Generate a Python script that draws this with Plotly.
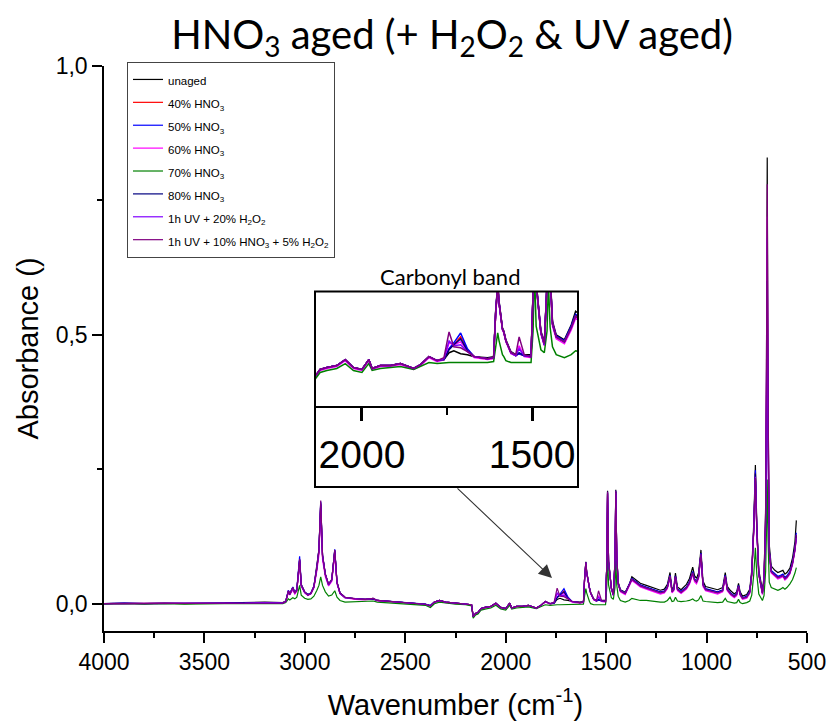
import plotly.graph_objects as go

# ---------------- data ----------------
wavenumber = [
    4000, 3900, 3800, 3700, 3600, 3500, 3400, 3300, 3200, 3110,
    3095, 3082, 3075, 3060, 3050, 3040, 3026, 3018, 3001, 2985,
    2970, 2955, 2940, 2930, 2921, 2912, 2898, 2882, 2866, 2851,
    2840, 2825, 2800, 2750, 2700, 2660, 2640, 2600, 2530, 2450,
    2400, 2375, 2355, 2330, 2300, 2250, 2200, 2170, 2162, 2150,
    2138, 2123, 2103, 2074, 2049, 2025, 2000, 1980, 1970, 1946,
    1916, 1887, 1848, 1828, 1803, 1779, 1759, 1744, 1730, 1710,
    1690, 1670, 1631, 1613, 1607, 1601, 1597, 1587, 1583, 1577,
    1562, 1548, 1538, 1523, 1503, 1497, 1493, 1488, 1474, 1464,
    1456, 1452, 1447, 1440, 1429, 1405, 1385, 1372, 1350, 1330,
    1300, 1260, 1230, 1210, 1195, 1182, 1172, 1163, 1155, 1145,
    1127, 1100, 1085, 1069, 1060, 1050, 1040, 1028, 1018, 1005,
    980, 960, 945, 920, 907, 897, 880, 862, 850, 841,
    833, 821, 800, 785, 775, 765, 757, 750, 740, 730,
    722, 714, 706, 702, 698, 694, 688, 678, 660, 645,
    632, 620, 610, 600, 585, 572, 560, 553,
]

unaged = [
    0.000, 0.001, 0.000, 0.001, 0.000, 0.001, 0.002, 0.003, 0.003, 0.002,
    0.005, 0.024, 0.018, 0.030, 0.020, 0.026, 0.082, 0.035, 0.022, 0.017,
    0.020, 0.032, 0.068, 0.100, 0.188, 0.090, 0.055, 0.036, 0.045, 0.100,
    0.040, 0.020, 0.012, 0.009, 0.008, 0.010, 0.006, 0.005, 0.003, 0.001,
    -0.001, -0.004, 0.003, 0.006, 0.003, 0.001, 0.000, -0.002, -0.024, -0.018,
    -0.016, -0.009, -0.007, -0.005, 0.001, -0.007, -0.009, 0.001, -0.008, -0.005,
    -0.005, -0.003, -0.008, -0.004, 0.004, 0.000, 0.001, 0.008, 0.010, 0.007,
    0.006, 0.004, 0.003, 0.004, 0.050, 0.078, 0.060, 0.033, 0.030, 0.021,
    0.009, 0.006, 0.007, 0.006, 0.006, 0.070, 0.210, 0.080, 0.030, 0.018,
    0.080, 0.212, 0.090, 0.040, 0.026, 0.021, 0.036, 0.050, 0.044, 0.038,
    0.034, 0.029, 0.025, 0.027, 0.036, 0.058, 0.027, 0.031, 0.057, 0.031,
    0.026, 0.036, 0.047, 0.068, 0.052, 0.047, 0.057, 0.100, 0.042, 0.032,
    0.030, 0.028, 0.026, 0.030, 0.058, 0.032, 0.024, 0.018, 0.022, 0.038,
    0.022, 0.014, 0.017, 0.027, 0.062, 0.150, 0.258, 0.150, 0.062, 0.042,
    0.025, 0.050, 0.170, 0.420, 0.830, 0.400, 0.110, 0.070, 0.062, 0.058,
    0.060, 0.062, 0.055, 0.058, 0.066, 0.085, 0.115, 0.155,
]

hno3_40 = [
    0.000, 0.000, 0.001, 0.000, 0.000, 0.001, 0.001, 0.002, 0.002, 0.001,
    0.004, 0.022, 0.017, 0.028, 0.019, 0.025, 0.080, 0.034, 0.021, 0.016,
    0.019, 0.031, 0.066, 0.097, 0.184, 0.088, 0.053, 0.035, 0.044, 0.097,
    0.039, 0.019, 0.011, 0.009, 0.008, 0.009, 0.006, 0.005, 0.003, 0.001,
    -0.001, -0.004, 0.003, 0.006, 0.003, 0.001, 0.000, -0.002, -0.023, -0.018,
    -0.016, -0.009, -0.007, -0.005, 0.001, -0.007, -0.009, 0.001, -0.008, -0.005,
    -0.005, -0.003, -0.008, -0.004, 0.004, 0.000, 0.001, 0.012, 0.016, 0.024,
    0.011, 0.004, 0.002, 0.003, 0.048, 0.076, 0.058, 0.032, 0.029, 0.020,
    0.008, 0.005, 0.007, 0.005, 0.004, 0.068, 0.205, 0.078, 0.028, 0.016,
    0.078, 0.207, 0.087, 0.037, 0.024, 0.019, 0.034, 0.046, 0.040, 0.034,
    0.030, 0.025, 0.021, 0.023, 0.031, 0.052, 0.023, 0.027, 0.051, 0.027,
    0.022, 0.030, 0.040, 0.058, 0.045, 0.041, 0.050, 0.093, 0.036, 0.027,
    0.025, 0.023, 0.021, 0.025, 0.052, 0.027, 0.019, 0.014, 0.018, 0.033,
    0.018, 0.010, 0.013, 0.022, 0.056, 0.140, 0.245, 0.140, 0.056, 0.036,
    0.020, 0.044, 0.150, 0.360, 0.640, 0.340, 0.098, 0.060, 0.053, 0.049,
    0.051, 0.053, 0.047, 0.050, 0.058, 0.076, 0.102, 0.128,
]

hno3_50 = [
    0.000, 0.001, 0.000, 0.000, 0.001, 0.000, 0.001, 0.002, 0.002, 0.001,
    0.005, 0.025, 0.019, 0.031, 0.021, 0.027, 0.088, 0.036, 0.022, 0.017,
    0.020, 0.033, 0.069, 0.101, 0.190, 0.091, 0.055, 0.036, 0.045, 0.101,
    0.040, 0.020, 0.012, 0.009, 0.008, 0.009, 0.006, 0.005, 0.003, 0.001,
    -0.001, -0.003, 0.003, 0.006, 0.003, 0.001, 0.000, -0.002, -0.024, -0.018,
    -0.016, -0.009, -0.007, -0.005, 0.001, -0.007, -0.009, 0.001, -0.008, -0.005,
    -0.005, -0.003, -0.008, -0.004, 0.004, 0.000, 0.001, 0.012, 0.018, 0.028,
    0.012, 0.004, 0.002, 0.003, 0.049, 0.077, 0.059, 0.032, 0.029, 0.020,
    0.008, 0.005, 0.007, 0.005, 0.005, 0.069, 0.208, 0.079, 0.029, 0.017,
    0.079, 0.210, 0.088, 0.038, 0.025, 0.020, 0.035, 0.047, 0.041, 0.035,
    0.031, 0.026, 0.022, 0.024, 0.032, 0.053, 0.024, 0.028, 0.052, 0.028,
    0.023, 0.031, 0.041, 0.060, 0.046, 0.042, 0.051, 0.094, 0.037, 0.028,
    0.026, 0.024, 0.022, 0.026, 0.053, 0.028, 0.020, 0.015, 0.019, 0.034,
    0.019, 0.011, 0.014, 0.023, 0.057, 0.142, 0.248, 0.142, 0.057, 0.037,
    0.021, 0.045, 0.155, 0.380, 0.680, 0.360, 0.100, 0.062, 0.055, 0.051,
    0.053, 0.055, 0.049, 0.052, 0.060, 0.078, 0.105, 0.132,
]

hno3_60 = [
    0.000, 0.000, 0.000, 0.001, 0.000, 0.000, 0.001, 0.002, 0.002, 0.001,
    0.004, 0.021, 0.016, 0.026, 0.018, 0.023, 0.075, 0.032, 0.020, 0.015,
    0.018, 0.029, 0.062, 0.090, 0.172, 0.082, 0.050, 0.033, 0.041, 0.091,
    0.037, 0.018, 0.011, 0.008, 0.007, 0.009, 0.005, 0.004, 0.002, 0.000,
    -0.002, -0.005, 0.002, 0.005, 0.002, 0.000, -0.001, -0.003, -0.025, -0.019,
    -0.017, -0.010, -0.008, -0.006, 0.000, -0.008, -0.010, 0.000, -0.009, -0.006,
    -0.006, -0.004, -0.009, -0.005, 0.003, -0.001, 0.001, 0.018, 0.016, 0.019,
    0.010, 0.003, 0.001, 0.002, 0.047, 0.075, 0.057, 0.031, 0.028, 0.019,
    0.007, 0.005, 0.015, 0.004, 0.003, 0.066, 0.200, 0.076, 0.027, 0.015,
    0.076, 0.202, 0.085, 0.035, 0.022, 0.017, 0.031, 0.043, 0.037, 0.031,
    0.027, 0.022, 0.018, 0.020, 0.028, 0.048, 0.020, 0.024, 0.048, 0.024,
    0.019, 0.027, 0.036, 0.054, 0.041, 0.037, 0.046, 0.088, 0.032, 0.024,
    0.022, 0.020, 0.018, 0.022, 0.048, 0.024, 0.016, 0.011, 0.015, 0.030,
    0.015, 0.008, 0.010, 0.019, 0.052, 0.135, 0.232, 0.135, 0.052, 0.033,
    0.017, 0.041, 0.160, 0.400, 0.720, 0.380, 0.095, 0.057, 0.050, 0.046,
    0.048, 0.050, 0.044, 0.047, 0.055, 0.072, 0.098, 0.122,
]

hno3_70 = [
    -0.001, 0.000, -0.001, 0.000, -0.001, 0.000, 0.000, 0.000, 0.000, 0.000,
    0.002, 0.009, 0.007, 0.011, 0.009, 0.012, 0.034, 0.016, 0.010, 0.008,
    0.009, 0.014, 0.025, 0.034, 0.050, 0.034, 0.022, 0.014, 0.016, 0.024,
    0.012, 0.006, 0.003, 0.004, 0.004, 0.005, 0.003, 0.002, 0.000, -0.002,
    -0.003, -0.007, 0.000, 0.003, 0.001, -0.001, -0.002, -0.004, -0.027, -0.021,
    -0.019, -0.012, -0.010, -0.008, -0.003, -0.010, -0.012, -0.003, -0.010, -0.008,
    -0.007, -0.006, -0.009, -0.006, -0.002, -0.003, -0.002, -0.002, -0.002, -0.002,
    -0.002, -0.002, -0.002, -0.001, 0.015, 0.028, 0.020, 0.006, 0.004, 0.000,
    -0.002, -0.002, -0.002, -0.002, -0.002, 0.030, 0.092, 0.035, 0.011, 0.008,
    0.030, 0.080, 0.034, 0.014, 0.006, 0.003, 0.006, 0.010, 0.008, 0.006,
    0.006, 0.004, 0.003, 0.003, 0.006, 0.012, 0.004, 0.005, 0.012, 0.005,
    0.004, 0.005, 0.006, 0.009, 0.006, 0.005, 0.007, 0.015, 0.005, 0.004,
    0.003, 0.002, 0.002, 0.003, 0.010, 0.004, 0.002, 0.001, 0.002, 0.008,
    0.002, 0.000, 0.002, 0.005, 0.016, 0.055, 0.104, 0.055, 0.018, 0.010,
    0.006, 0.015, 0.060, 0.130, 0.231, 0.120, 0.040, 0.030, 0.027, 0.025,
    0.027, 0.030, 0.027, 0.030, 0.037, 0.045, 0.057, 0.067,
]

hno3_80 = [
    0.000, 0.000, 0.001, 0.000, 0.000, 0.001, 0.001, 0.002, 0.002, 0.001,
    0.004, 0.023, 0.017, 0.029, 0.020, 0.025, 0.081, 0.034, 0.021, 0.016,
    0.019, 0.031, 0.066, 0.098, 0.185, 0.088, 0.054, 0.035, 0.044, 0.098,
    0.039, 0.019, 0.011, 0.009, 0.008, 0.009, 0.006, 0.005, 0.003, 0.001,
    -0.001, -0.004, 0.003, 0.006, 0.003, 0.001, 0.000, -0.002, -0.024, -0.018,
    -0.016, -0.009, -0.007, -0.005, 0.001, -0.007, -0.009, 0.001, -0.008, -0.005,
    -0.005, -0.003, -0.008, -0.004, 0.004, 0.000, 0.001, 0.011, 0.016, 0.022,
    0.010, 0.004, 0.002, 0.003, 0.048, 0.076, 0.058, 0.032, 0.029, 0.020,
    0.008, 0.005, 0.008, 0.005, 0.004, 0.068, 0.206, 0.078, 0.028, 0.016,
    0.078, 0.208, 0.087, 0.037, 0.024, 0.019, 0.034, 0.046, 0.040, 0.034,
    0.030, 0.025, 0.021, 0.023, 0.031, 0.052, 0.023, 0.027, 0.051, 0.027,
    0.022, 0.030, 0.040, 0.058, 0.045, 0.041, 0.050, 0.093, 0.036, 0.027,
    0.025, 0.023, 0.021, 0.025, 0.052, 0.027, 0.019, 0.014, 0.018, 0.033,
    0.018, 0.010, 0.013, 0.022, 0.056, 0.140, 0.242, 0.140, 0.056, 0.036,
    0.020, 0.044, 0.145, 0.340, 0.600, 0.320, 0.097, 0.060, 0.053, 0.049,
    0.051, 0.053, 0.047, 0.050, 0.058, 0.076, 0.102, 0.126,
]

uv_h2o2 = [
    0.000, 0.000, 0.000, 0.000, 0.000, 0.000, 0.001, 0.001, 0.002, 0.001,
    0.004, 0.024, 0.018, 0.029, 0.020, 0.026, 0.082, 0.034, 0.021, 0.016,
    0.019, 0.031, 0.067, 0.099, 0.186, 0.089, 0.054, 0.035, 0.044, 0.098,
    0.039, 0.019, 0.011, 0.009, 0.008, 0.010, 0.006, 0.005, 0.003, 0.001,
    -0.001, -0.004, 0.003, 0.006, 0.003, 0.001, 0.000, -0.002, -0.024, -0.018,
    -0.016, -0.009, -0.007, -0.005, 0.001, -0.007, -0.009, 0.001, -0.008, -0.005,
    -0.005, -0.003, -0.008, -0.004, 0.004, 0.000, 0.002, 0.020, 0.015, 0.016,
    0.009, 0.004, 0.002, 0.003, 0.048, 0.076, 0.058, 0.032, 0.029, 0.020,
    0.008, 0.005, 0.012, 0.005, 0.004, 0.068, 0.205, 0.078, 0.028, 0.016,
    0.078, 0.206, 0.087, 0.037, 0.024, 0.019, 0.033, 0.045, 0.039, 0.033,
    0.029, 0.024, 0.020, 0.022, 0.030, 0.051, 0.022, 0.026, 0.050, 0.026,
    0.021, 0.029, 0.039, 0.057, 0.044, 0.040, 0.049, 0.092, 0.035, 0.026,
    0.024, 0.022, 0.020, 0.024, 0.051, 0.026, 0.018, 0.013, 0.017, 0.032,
    0.017, 0.010, 0.012, 0.021, 0.055, 0.138, 0.236, 0.138, 0.055, 0.035,
    0.019, 0.043, 0.140, 0.320, 0.550, 0.300, 0.096, 0.059, 0.052, 0.048,
    0.050, 0.052, 0.046, 0.049, 0.057, 0.075, 0.100, 0.122,
]

uv_hno3_h2o2 = [
    0.000, 0.000, 0.000, 0.000, 0.000, 0.000, 0.001, 0.001, 0.001, 0.001,
    0.004, 0.024, 0.018, 0.030, 0.020, 0.026, 0.083, 0.035, 0.022, 0.016,
    0.019, 0.032, 0.068, 0.100, 0.192, 0.090, 0.055, 0.036, 0.045, 0.100,
    0.040, 0.020, 0.012, 0.009, 0.008, 0.010, 0.006, 0.005, 0.003, 0.001,
    -0.001, -0.004, 0.003, 0.006, 0.003, 0.001, 0.000, -0.002, -0.024, -0.018,
    -0.016, -0.009, -0.007, -0.005, 0.001, -0.007, -0.009, 0.001, -0.008, -0.005,
    -0.005, -0.003, -0.008, -0.004, 0.004, 0.000, 0.003, 0.029, 0.014, 0.013,
    0.009, 0.004, 0.002, 0.003, 0.048, 0.077, 0.059, 0.032, 0.029, 0.020,
    0.008, 0.006, 0.024, 0.006, 0.004, 0.069, 0.208, 0.079, 0.029, 0.017,
    0.079, 0.210, 0.088, 0.038, 0.024, 0.019, 0.033, 0.045, 0.039, 0.033,
    0.029, 0.024, 0.020, 0.022, 0.030, 0.051, 0.022, 0.026, 0.050, 0.026,
    0.021, 0.029, 0.039, 0.057, 0.044, 0.040, 0.049, 0.092, 0.035, 0.026,
    0.024, 0.022, 0.020, 0.024, 0.051, 0.026, 0.018, 0.013, 0.017, 0.032,
    0.017, 0.010, 0.012, 0.021, 0.055, 0.138, 0.234, 0.138, 0.055, 0.035,
    0.019, 0.043, 0.180, 0.440, 0.780, 0.400, 0.098, 0.059, 0.052, 0.048,
    0.050, 0.052, 0.046, 0.049, 0.057, 0.075, 0.100, 0.128,
]

series_names = [
    "unaged",
    "40% HNO<sub>3</sub>",
    "50% HNO<sub>3</sub>",
    "60% HNO<sub>3</sub>",
    "70% HNO<sub>3</sub>",
    "80% HNO<sub>3</sub>",
    "1h UV + 20% H<sub>2</sub>O<sub>2</sub>",
    "1h UV + 10% HNO<sub>3</sub> + 5% H<sub>2</sub>O<sub>2</sub>",
]
series_values = [unaged, hno3_40, hno3_50, hno3_60, hno3_70, hno3_80,
                 uv_h2o2, uv_hno3_h2o2]
series_colors = ["#000000", "#FF0000", "#0000FF", "#FF00FF", "#008000",
                 "#000080", "#8000FF", "#800080"]

x_ticks = [4000, 3500, 3000, 2500, 2000, 1500, 1000, 500]
y_ticks = [0.0, 0.5, 1.0]
y_ticktext = ["0,0", "0,5", "1,0"]
inset_ticks = [2000, 1500]

# ---------------- layout geometry ----------------
W, H = 830, 727
L, R, T, B = 104, 23, 66, 96
PW, PH = W - L - R, H - T - B


def px_x(px):
    return (px - L) / PW


def px_y(py):
    return (H - B - py) / PH


AX_FONT = "Liberation Sans, Arial, sans-serif"
TITLE_FONT = "Lato, Carlito, Calibri, sans-serif"

fig = go.Figure()

for i, (name, vals, col) in enumerate(zip(series_names, series_values, series_colors)):
    fig.add_trace(go.Scatter(
        x=wavenumber, y=vals, mode="lines",
        name='<span style="font-size:11.5px">' + name + "</span>",
        line=dict(color=col, width=1.2),
        hoverinfo="skip",
    ))

for i, (name, vals, col) in enumerate(zip(series_names, series_values, series_colors)):
    fig.add_trace(go.Scatter(
        x=wavenumber, y=vals, mode="lines", name=name, showlegend=False,
        line=dict(color=col, width=1.5), xaxis="x2", yaxis="y2",
        hoverinfo="skip",
    ))

fig.update_layout(
    width=W, height=H, autosize=False,
    margin=dict(l=L, r=R, t=T, b=B, pad=0, autoexpand=False),
    paper_bgcolor="white", plot_bgcolor="white",
    title=dict(
        text="HNO<sub>3</sub> aged (+ H<sub>2</sub>O<sub>2</sub> &amp; UV aged)",
        x=452 / W, xanchor="center", y=1 - 35 / H, yanchor="middle",
        font=dict(family=TITLE_FONT, size=40, color="black"),
    ),
    xaxis=dict(
        range=[4000, 500], tickmode="array", tickvals=x_ticks,
        ticks="outside", ticklen=10, tickwidth=1.5, tickcolor="black",
        showline=True, linecolor="black", linewidth=1.5, mirror=False,
        showgrid=False, zeroline=False, automargin=False,
        minor=dict(dtick=250, tick0=0, ticks="outside", ticklen=5,
                   tickwidth=1.5, tickcolor="black", showgrid=False),
        tickfont=dict(family=AX_FONT, size=23, color="black"),
        title=dict(text="Wavenumber (cm<sup>-1</sup>)", standoff=20,
                   font=dict(family=AX_FONT, size=29, color="black")),
    ),
    yaxis=dict(
        range=[-0.0508, 1.0], tickmode="array", tickvals=y_ticks,
        ticktext=y_ticktext,
        ticks="outside", ticklen=10, tickwidth=1.5, tickcolor="black",
        showline=True, linecolor="black", linewidth=1.5, mirror=False,
        showgrid=False, zeroline=False, automargin=False,
        minor=dict(tickvals=[0.25, 0.75], ticks="outside", ticklen=5,
                   tickwidth=1.5, tickcolor="black", showgrid=False),
        tickfont=dict(family=AX_FONT, size=23, color="black"),
        title=dict(text="Absorbance ()", standoff=9,
                   font=dict(family=AX_FONT, size=29, color="black")),
    ),
    xaxis2=dict(
        domain=[px_x(315), px_x(578)], anchor="y2",
        range=[2138, 1365], tickmode="array", tickvals=inset_ticks,
        ticks="outside", ticklen=13, tickwidth=2.5, tickcolor="black",
        showline=True, linecolor="black", linewidth=2, mirror=False,
        showgrid=False, zeroline=False, automargin=False,
        minor=dict(tickvals=[1750], ticks="outside", ticklen=7,
                   tickwidth=2, tickcolor="black", showgrid=False),
        tickfont=dict(family=AX_FONT, size=39, color="black"),
    ),
    yaxis2=dict(
        domain=[px_y(406), px_y(291.5)], anchor="x2",
        range=[-0.046, 0.07], showticklabels=False, ticks="",
        showline=False, showgrid=False, zeroline=False, automargin=False,
    ),
    legend=dict(
        x=px_x(127), y=px_y(62), xanchor="left", yanchor="top",
        bgcolor="white", bordercolor="#444444", borderwidth=1,
        font=dict(family=AX_FONT, size=15.3, color="black"),
        itemclick=False, itemdoubleclick=False,
    ),
    showlegend=True,
)

# outer frame of the inset (plot + its tick labels)
fig.add_shape(type="rect", xref="paper", yref="paper",
              x0=px_x(315), x1=px_x(578), y0=px_y(487), y1=px_y(291.5),
              line=dict(color="black", width=2), fillcolor="rgba(0,0,0,0)",
              layer="above")

fig.add_annotation(
    text="Carbonyl band", xref="paper", yref="paper",
    x=px_x(450), y=px_y(276), xanchor="center", yanchor="middle",
    showarrow=False, font=dict(family=TITLE_FONT, size=22, color="black"),
)

fig.add_annotation(
    text="", xref="paper", yref="paper",
    x=px_x(552), y=px_y(578), ax=-96, ay=-91,
    showarrow=True, arrowhead=2, arrowsize=2.4, arrowwidth=1.1,
    arrowcolor="#333333",
)

fig.write_html("out.html")
